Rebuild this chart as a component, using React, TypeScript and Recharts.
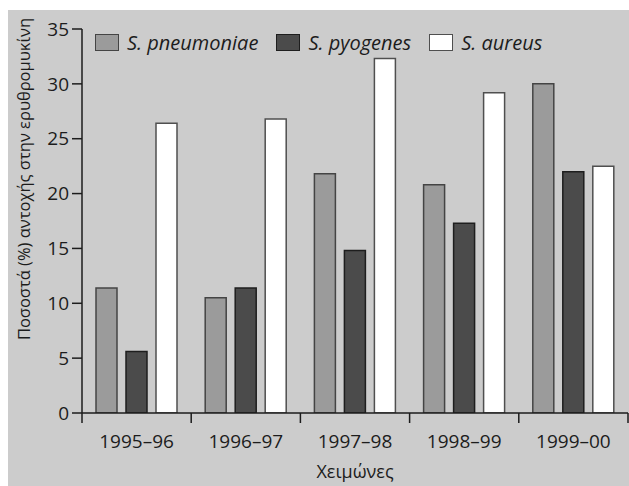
import { BarChart, Bar, XAxis, YAxis, Legend } from 'recharts'

const seasons = ['1995–96', '1996–97', '1997–98', '1998–99', '1999–00']
const pneumoniae = [11.4, 10.5, 21.8, 20.8, 30.0]
const pyogenes = [5.6, 11.4, 14.8, 17.3, 22.0]
const aureus = [26.4, 26.8, 32.3, 29.2, 22.5]
const yTicks = [0, 5, 10, 15, 20, 25, 30, 35]

const data = seasons.map((season, i) => ({
  season,
  pneumoniae: pneumoniae[i],
  pyogenes: pyogenes[i],
  aureus: aureus[i],
}))

const FONT = '"Open Sans", sans-serif'
const INK = '#1c1c1c'
const BG = '#cccccc'

const seriesOrder = ['pneumoniae', 'pyogenes', 'aureus']
const seriesStyle: Record<string, { fill: string; stroke: string }> = {
  pneumoniae: { fill: '#9b9b9b', stroke: '#444444' },
  pyogenes: { fill: '#4b4b4b', stroke: '#1e1e1e' },
  aureus: { fill: '#ffffff', stroke: '#4f4f4f' },
}

const TICK_SIZE = 10
const TICK_MARGIN = 12

function SeasonTick(props: any) {
  const { x, y, payload, index } = props
  const half = payload.offset ?? 54.6
  const axisY = y - TICK_SIZE - TICK_MARGIN
  const lx = x - half
  const rx = x + half
  return (
    <g>
      <line x1={lx} x2={lx} y1={axisY} y2={axisY + TICK_SIZE} stroke={INK} strokeWidth={1.5} />
      {index === seasons.length - 1 && (
        <line x1={rx} x2={rx} y1={axisY} y2={axisY + TICK_SIZE} stroke={INK} strokeWidth={1.5} />
      )}
      <text x={x} y={y} dy="0.71em" textAnchor="middle" fill={INK} fontSize={19} fontFamily={FONT}>
        {payload.value}
      </text>
    </g>
  )
}

function YLabel(props: any) {
  const vb = props.viewBox || { x: 0, y: 19, width: 74, height: 384 }
  const cx = vb.x + 15
  const cy = vb.y + vb.height / 2 - 42
  return (
    <text
      x={cx}
      y={cy}
      transform={`rotate(-90 ${cx} ${cy})`}
      textAnchor="middle"
      dominantBaseline="central"
      fill={INK}
      fontSize={16.5}
      fontFamily={FONT}
    >
      Ποσοστά (%) αντοχής στην ερυθρομυκίνη
    </text>
  )
}

function XLabel(props: any) {
  const vb = props.viewBox || { x: 74, y: 403, width: 546, height: 73 }
  return (
    <text x={vb.x + vb.width / 2} y={vb.y + vb.height - 8} textAnchor="middle" fill={INK} fontSize={18} fontFamily={FONT}>
      Χειμώνες
    </text>
  )
}

function LegendRow({ payload }: any) {
  const items = seriesOrder
    .map((k) => (payload || []).find((e: any) => e.dataKey === k))
    .filter(Boolean)
  return (
    <div style={{ display: 'flex', alignItems: 'center', fontFamily: FONT, fontStyle: 'italic', fontSize: 20, color: INK }}>
      {items.map((e: any) => {
        const st = seriesStyle[e.dataKey]
        return (
          <div key={e.value} style={{ display: 'flex', alignItems: 'center', marginRight: 18 }}>
            <span
              style={{
                display: 'inline-block',
                width: 24,
                height: 17,
                boxSizing: 'border-box',
                background: st.fill,
                border: `1.5px solid ${st.stroke}`,
                marginRight: 8,
              }}
            />
            <span>{e.value}</span>
          </div>
        )
      })}
    </div>
  )
}

export default function App() {
  return (
    <div style={{ position: 'absolute', left: 8, top: 10, width: 621, height: 476, background: BG, overflow: 'hidden' }}>
      <BarChart
        width={621}
        height={476}
        data={data}
        margin={{ top: 19, right: 1, bottom: 0, left: 0 }}
        barSize={21}
        barGap={9}
      >
        <XAxis
          dataKey="season"
          height={73}
          axisLine={{ stroke: INK, strokeWidth: 1.5 }}
          tickLine={{ stroke: 'none' }}
          tickSize={TICK_SIZE}
          tickMargin={TICK_MARGIN}
          tick={<SeasonTick />}
          interval={0}
          label={<XLabel />}
        />
        <YAxis
          width={74}
          domain={[0, 35]}
          ticks={yTicks}
          allowDataOverflow
          axisLine={{ stroke: INK, strokeWidth: 1.5 }}
          tickLine={{ stroke: INK, strokeWidth: 1.5 }}
          tickSize={10}
          tickMargin={3}
          tick={{ fill: INK, fontSize: 19, fontFamily: FONT }}
          label={<YLabel />}
        />
        <Legend
          layout="vertical"
          verticalAlign="middle"
          align="center"
          content={<LegendRow />}
          wrapperStyle={{ top: 19, left: 87, width: 560 }}
        />
        <Bar dataKey="pneumoniae" name="S. pneumoniae" fill={seriesStyle.pneumoniae.fill} stroke={seriesStyle.pneumoniae.stroke} strokeWidth={1.5} isAnimationActive={false} />
        <Bar dataKey="pyogenes" name="S. pyogenes" fill={seriesStyle.pyogenes.fill} stroke={seriesStyle.pyogenes.stroke} strokeWidth={1.5} isAnimationActive={false} />
        <Bar dataKey="aureus" name="S. aureus" fill={seriesStyle.aureus.fill} stroke={seriesStyle.aureus.stroke} strokeWidth={1.5} isAnimationActive={false} />
      </BarChart>
    </div>
  )
}
